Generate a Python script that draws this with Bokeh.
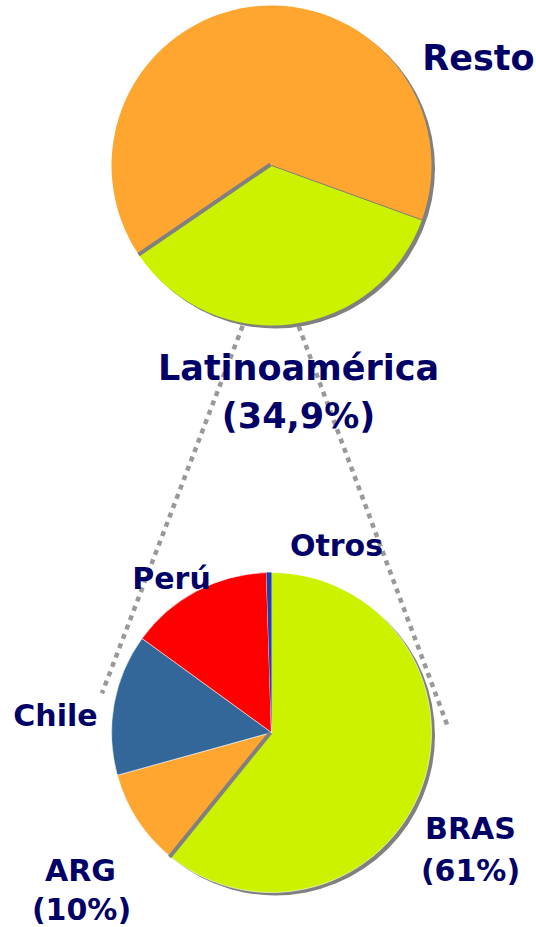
import numpy as np
from bokeh.plotting import figure
from bokeh.models import Range1d
from bokeh.embed import file_html
from bokeh.resources import INLINE
from bokeh.core.properties import value

# ---------------- data ----------------
top_labels = ["Latinoamérica", "Resto"]
top_values = [34.9, 65.1]
top_colors = ["#CCF200", "#FFA630"]

bot_labels = ["BRAS", "ARG", "Chile", "Perú", "Otros"]
bot_values = [60.8, 9.9, 14.3, 14.5, 0.5]
bot_colors = ["#CCF200", "#FFA630", "#336699", "#FF0000", "#2040A8"]

label_texts = ["Resto", "Latinoamérica", "(34,9%)", "Otros", "Perú", "Chile",
               "ARG", "(10%)", "BRAS", "(61%)"]

# ---------------- layout ----------------
W, H = 536, 927
R = 160
TOP_C = (271, H - 165)
BOT_C = (271, H - 732)
TOP_START = -19.9   # degrees, first slice starts here and runs clockwise
BOT_START = 90.0
TXT_SHIFT = 12      # baseline correction (px)

NAVY = "#000066"
SHADOW = "#808080"

p = figure(width=W, height=H, x_range=Range1d(0, W), y_range=Range1d(0, H),
           output_backend="svg", toolbar_location=None, min_border=0)
p.axis.visible = False
p.grid.visible = False
p.outline_line_color = None
p.background_fill_color = "white"
p.border_fill_color = "white"


def angles(vals, start_deg):
    vals = np.asarray(vals, dtype=float)
    cum = np.concatenate([[0.0], np.cumsum(vals)])
    starts = start_deg - cum[:-1] * 3.6
    ends = start_deg - cum[1:] * 3.6
    return np.radians(starts), np.radians(ends)


def polar(c, r, deg):
    a = np.radians(deg)
    return c[0] + r * np.cos(a), c[1] + r * np.sin(a)


# connectors (dotted)
t_l = polar(TOP_C, 163, 259.8)
t_r = polar(TOP_C, 163, 279.6)
b_l = polar(BOT_C, 174, 167.0)
b_r = polar(BOT_C, 176, 2.3)
p.segment(x0=[t_l[0], t_r[0]], y0=[t_l[1], t_r[1]],
          x1=[b_l[0], b_r[0]], y1=[b_l[1], b_r[1]],
          line_color="#999999", line_width=4.5, line_dash="5 5", line_cap="butt")

# shadows
for c in (TOP_C, BOT_C):
    p.circle(x=[c[0] + 3.5], y=[c[1] - 3], radius=R, fill_color=SHADOW,
             line_color=None)

# top pie
s, e = angles(top_values, TOP_START)
p.wedge(x=TOP_C[0], y=TOP_C[1], radius=R, start_angle=s, end_angle=e,
        direction="clock", fill_color=top_colors, line_color=None)
# boundary shadow strokes
b_deg = np.degrees(e[0])
bx, by = polar(TOP_C, R, b_deg)
p.segment(x0=[TOP_C[0] - 1], y0=[TOP_C[1] + 1], x1=[bx - 1], y1=[by + 1.5],
          line_color=SHADOW, line_width=4)
rx, ry = polar(TOP_C, R, np.degrees(s[0]))
p.segment(x0=[TOP_C[0]], y0=[TOP_C[1]], x1=[rx], y1=[ry],
          line_color=SHADOW, line_width=1)

# bottom pie
s2, e2 = angles(bot_values, BOT_START)
p.wedge(x=BOT_C[0], y=BOT_C[1], radius=R, start_angle=s2, end_angle=e2,
        direction="clock", fill_color=bot_colors, line_color="white",
        line_width=0.6)
bx2, by2 = polar(BOT_C, R, np.degrees(e2[0]))
p.segment(x0=[BOT_C[0] - 1], y0=[BOT_C[1]], x1=[bx2 - 1.5], y1=[by2],
          line_color=SHADOW, line_width=4)
# redraw Otros sliver on top of its thin outline
p.wedge(x=BOT_C[0], y=BOT_C[1], radius=R, start_angle=s2[4:], end_angle=e2[4:],
        direction="clock", fill_color=bot_colors[4:], line_color=None)

# labels
big = dict(text_font=value("DejaVu Sans"), text_font_style="bold",
           text_font_size="35px", text_color=NAVY, text_align="center",
           text_baseline="alphabetic")
small = dict(big, text_font_size="30px")

big_y = [69, 379, 427]
small_y = [557, 590, 727, 882, 921, 840, 882]
p.text(x=[478, 298, 298], y=[H - v + TXT_SHIFT for v in big_y],
       text=label_texts[0:3], **big)
p.text(x=[336, 171, 55, 80, 81, 470, 470],
       y=[H - v + TXT_SHIFT for v in small_y],
       text=label_texts[3:], **small)

open("out.html", "w").write(file_html(p, INLINE))
